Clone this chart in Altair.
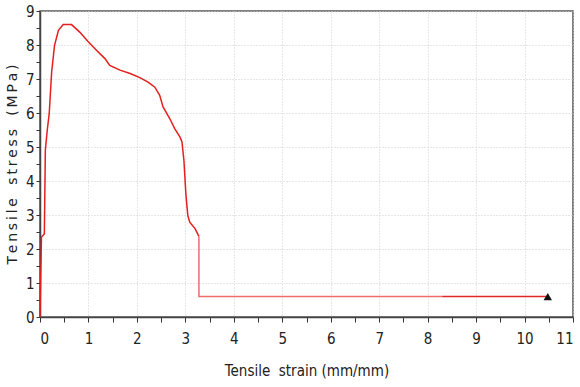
import altair as alt
import pandas as pd

# main curve (strain mm/mm, stress MPa)
strain = [0, 0.03, 0.06, 0.09, 0.11, 0.15, 0.19, 0.24, 0.30, 0.38, 0.48, 0.65, 0.82, 1.0,
          1.17, 1.34, 1.44, 1.65, 1.86, 2.06, 2.23, 2.37, 2.47, 2.54, 2.68, 2.78, 2.89,
          2.93, 2.97, 3.01, 3.05, 3.09, 3.20, 3.28]
stress = [0, 2.35, 2.40, 2.45, 4.9, 5.5, 5.98, 7.2, 7.99, 8.43, 8.6, 8.6, 8.38, 8.09,
          7.84, 7.6, 7.4, 7.26, 7.16, 7.04, 6.91, 6.76, 6.52, 6.18, 5.83, 5.54, 5.29,
          5.15, 4.61, 3.63, 2.99, 2.79, 2.6, 2.37]
# after failure: residual plateau
tail_light_strain = [3.28, 3.28, 8.3]
tail_light_stress = [2.37, 0.6, 0.6]
tail_dark_strain = [8.3, 10.48]
tail_dark_stress = [0.6, 0.6]
end_strain = [10.48]
end_stress = [0.6]

x_ticks = [i * 0.5 for i in range(23)]
y_ticks = [i * 0.5 for i in range(19)]

rows = []
for i, (a, b) in enumerate(zip(strain, stress)):
    rows.append({"strain": a, "stress": b, "seg": "main", "i": i})
for i, (a, b) in enumerate(zip(tail_light_strain, tail_light_stress)):
    rows.append({"strain": a, "stress": b, "seg": "light", "i": i})
for i, (a, b) in enumerate(zip(tail_dark_strain, tail_dark_stress)):
    rows.append({"strain": a, "stress": b, "seg": "dark", "i": i})
df = pd.DataFrame(rows)
end_df = pd.DataFrame({"strain": end_strain, "stress": end_stress})

def spaced(words, gap="\u2009", word_gap="\u00a0\u00a0\u00a0"):
    return word_gap.join(gap.join(w) for w in words)

y_title = spaced(["Tensile", "stress", "(MPa)"])
x_title = "Tensile\u00a0\u00a0strain (mm/mm)"

lab = "datum.value % 1 == 0 ? format(datum.value, 'd') : ''"
tick_font = "Liberation Sans Narrow, DejaVu Sans Condensed, Roboto Condensed, DejaVu Sans"
xax = alt.Axis(
    values=x_ticks, labelExpr=lab,
    labelOverlap=False,
    title=x_title, titleFont=tick_font, titleFontSize=15,
    titleFontWeight="normal", titleColor="#222", titlePadding=17,
    labelFont=tick_font, labelFontSize=15, labelColor="#222", labelPadding=9,
    tickSize=5, tickColor="#333", domainColor="#444", domainWidth=1.5,
    gridColor="#cfcfcf", gridDash=[1, 2],
    gridOpacity={"condition": {"test": "datum.value % 1 != 0", "value": 0}, "value": 1},
)
yax = alt.Axis(
    values=y_ticks, labelExpr=lab,
    labelOverlap=False,
    title=y_title, titleFont="DejaVu Sans", titleFontSize=14,
    titleFontWeight="normal", titleColor="#222", titlePadding=6,
    labelFont=tick_font, labelFontSize=15, labelColor="#222", labelPadding=2,
    tickSize=4, tickColor="#333", domainColor="#444", domainWidth=1.5,
    gridColor="#cfcfcf", gridDash=[1, 2],
    gridOpacity={"condition": {"test": "datum.value % 1 != 0", "value": 0}, "value": 1},
)
xs = alt.Scale(domain=[0, 11], nice=False)
ys = alt.Scale(domain=[0, 9], nice=False)

line = alt.Chart(df).mark_line(strokeWidth=1.5, interpolate="linear").encode(
    x=alt.X("strain:Q", scale=xs, axis=xax),
    y=alt.Y("stress:Q", scale=ys, axis=yax),
    color=alt.Color("seg:N", scale=alt.Scale(domain=["main", "light", "dark"],
                                              range=["#e61e1e", "#ee6b6b", "#e02828"]),
                    legend=None),
    order="i:Q",
)
marker = alt.Chart(end_df).mark_point(shape="triangle-up", filled=True, color="#111",
                                      size=70, opacity=1).encode(
    x=alt.X("strain:Q", scale=xs, axis=xax),
    y=alt.Y("stress:Q", scale=ys, axis=yax))

chart = alt.layer(line, marker).properties(
    width=533, height=306,
    autosize=alt.AutoSizeParams(type="none"),
    padding={"left": 40, "top": 11, "right": 7, "bottom": 70},
    background="white",
).configure_view(stroke="#555", strokeWidth=1.5).configure_axis(labelOverlap=False)

chart.save("out.html", embed_options={"renderer": "svg", "actions": False})
